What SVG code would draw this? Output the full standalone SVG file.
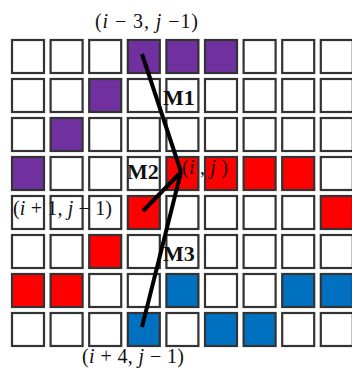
<svg xmlns="http://www.w3.org/2000/svg" width="352" height="369" viewBox="0 0 352 369">
<style>
.c{stroke:#333;stroke-width:2.2;fill:#ffffff}
.p{fill:#7030a0}
.r{fill:#ff0000}
.b{fill:#0070c0}
.m{font-family:"Liberation Serif",serif;font-weight:bold;font-size:22px;fill:#111}
.t{font-family:"Liberation Serif",serif;font-size:20px;fill:#111}
.i{font-style:italic}
.ln{stroke:#000;stroke-width:4;fill:none}
</style>
<rect width="352" height="369" fill="#fff"/>
<g id="grid">
<g id="r1c1"><rect class="c" x="12" y="40" width="32" height="33"/></g>
<g id="r1c2"><rect class="c" x="50.6" y="40" width="32" height="33"/></g>
<g id="r1c3"><rect class="c" x="89.2" y="40" width="32" height="33"/></g>
<g id="r1c4"><rect class="c p" x="127.8" y="40" width="32" height="33"/></g>
<g id="r1c5"><rect class="c p" x="166.4" y="40" width="32" height="33"/></g>
<g id="r1c6"><rect class="c p" x="205" y="40" width="32" height="33"/></g>
<g id="r1c7"><rect class="c" x="243.6" y="40" width="32" height="33"/></g>
<g id="r1c8"><rect class="c" x="282.2" y="40" width="32" height="33"/></g>
<g id="r1c9"><rect class="c" x="320.8" y="40" width="32" height="33"/></g>

<g id="r2c1"><rect class="c" x="12" y="79" width="32" height="33"/></g>
<g id="r2c2"><rect class="c" x="50.6" y="79" width="32" height="33"/></g>
<g id="r2c3"><rect class="c p" x="89.2" y="79" width="32" height="33"/></g>
<g id="r2c4"><rect class="c" x="127.8" y="79" width="32" height="33"/></g>
<g id="r2c5"><rect class="c" x="166.4" y="79" width="32" height="33"/></g>
<g id="r2c6"><rect class="c" x="205" y="79" width="32" height="33"/></g>
<g id="r2c7"><rect class="c" x="243.6" y="79" width="32" height="33"/></g>
<g id="r2c8"><rect class="c" x="282.2" y="79" width="32" height="33"/></g>
<g id="r2c9"><rect class="c" x="320.8" y="79" width="32" height="33"/></g>

<g id="r3c1"><rect class="c" x="12" y="118" width="32" height="33"/></g>
<g id="r3c2"><rect class="c p" x="50.6" y="118" width="32" height="33"/></g>
<g id="r3c3"><rect class="c" x="89.2" y="118" width="32" height="33"/></g>
<g id="r3c4"><rect class="c" x="127.8" y="118" width="32" height="33"/></g>
<g id="r3c5"><rect class="c" x="166.4" y="118" width="32" height="33"/></g>
<g id="r3c6"><rect class="c" x="205" y="118" width="32" height="33"/></g>
<g id="r3c7"><rect class="c" x="243.6" y="118" width="32" height="33"/></g>
<g id="r3c8"><rect class="c" x="282.2" y="118" width="32" height="33"/></g>
<g id="r3c9"><rect class="c" x="320.8" y="118" width="32" height="33"/></g>

<g id="r4c1"><rect class="c p" x="12" y="157" width="32" height="33"/></g>
<g id="r4c2"><rect class="c" x="50.6" y="157" width="32" height="33"/></g>
<g id="r4c3"><rect class="c" x="89.2" y="157" width="32" height="33"/></g>
<g id="r4c4"><rect class="c" x="127.8" y="157" width="32" height="33"/></g>
<g id="r4c5"><rect class="c r" x="166.4" y="157" width="32" height="33"/></g>
<g id="r4c6"><rect class="c r" x="205" y="157" width="32" height="33"/></g>
<g id="r4c7"><rect class="c r" x="243.6" y="157" width="32" height="33"/></g>
<g id="r4c8"><rect class="c r" x="282.2" y="157" width="32" height="33"/></g>
<g id="r4c9"><rect class="c" x="320.8" y="157" width="32" height="33"/></g>

<g id="r5c1"><rect class="c" x="12" y="196" width="32" height="33"/></g>
<g id="r5c2"><rect class="c" x="50.6" y="196" width="32" height="33"/></g>
<g id="r5c3"><rect class="c" x="89.2" y="196" width="32" height="33"/></g>
<g id="r5c4"><rect class="c r" x="127.8" y="196" width="32" height="33"/></g>
<g id="r5c5"><rect class="c" x="166.4" y="196" width="32" height="33"/></g>
<g id="r5c6"><rect class="c" x="205" y="196" width="32" height="33"/></g>
<g id="r5c7"><rect class="c" x="243.6" y="196" width="32" height="33"/></g>
<g id="r5c8"><rect class="c" x="282.2" y="196" width="32" height="33"/></g>
<g id="r5c9"><rect class="c r" x="320.8" y="196" width="32" height="33"/></g>

<g id="r6c1"><rect class="c" x="12" y="235" width="32" height="33"/></g>
<g id="r6c2"><rect class="c" x="50.6" y="235" width="32" height="33"/></g>
<g id="r6c3"><rect class="c r" x="89.2" y="235" width="32" height="33"/></g>
<g id="r6c4"><rect class="c" x="127.8" y="235" width="32" height="33"/></g>
<g id="r6c5"><rect class="c" x="166.4" y="235" width="32" height="33"/></g>
<g id="r6c6"><rect class="c" x="205" y="235" width="32" height="33"/></g>
<g id="r6c7"><rect class="c" x="243.6" y="235" width="32" height="33"/></g>
<g id="r6c8"><rect class="c" x="282.2" y="235" width="32" height="33"/></g>
<g id="r6c9"><rect class="c" x="320.8" y="235" width="32" height="33"/></g>

<g id="r7c1"><rect class="c r" x="12" y="274" width="32" height="33"/></g>
<g id="r7c2"><rect class="c r" x="50.6" y="274" width="32" height="33"/></g>
<g id="r7c3"><rect class="c" x="89.2" y="274" width="32" height="33"/></g>
<g id="r7c4"><rect class="c" x="127.8" y="274" width="32" height="33"/></g>
<g id="r7c5"><rect class="c b" x="166.4" y="274" width="32" height="33"/></g>
<g id="r7c6"><rect class="c" x="205" y="274" width="32" height="33"/></g>
<g id="r7c7"><rect class="c" x="243.6" y="274" width="32" height="33"/></g>
<g id="r7c8"><rect class="c b" x="282.2" y="274" width="32" height="33"/></g>
<g id="r7c9"><rect class="c b" x="320.8" y="274" width="32" height="33"/></g>

<g id="r8c1"><rect class="c" x="12" y="313" width="32" height="33"/></g>
<g id="r8c2"><rect class="c" x="50.6" y="313" width="32" height="33"/></g>
<g id="r8c3"><rect class="c" x="89.2" y="313" width="32" height="33"/></g>
<g id="r8c4"><rect class="c b" x="127.8" y="313" width="32" height="33"/></g>
<g id="r8c5"><rect class="c" x="166.4" y="313" width="32" height="33"/></g>
<g id="r8c6"><rect class="c b" x="205" y="313" width="32" height="33"/></g>
<g id="r8c7"><rect class="c b" x="243.6" y="313" width="32" height="33"/></g>
<g id="r8c8"><rect class="c" x="282.2" y="313" width="32" height="33"/></g>
<g id="r8c9"><rect class="c" x="320.8" y="313" width="32" height="33"/></g>
</g>
<g id="connectors">
<line class="ln" x1="142" y1="54" x2="181" y2="172"/>
<line class="ln" x1="143" y1="211" x2="181" y2="172"/>
<line class="ln" x1="142" y1="327" x2="181" y2="172"/>
</g>
<g id="labels">
<text class="m" x="163" y="105">M1</text>
<text class="m" x="127" y="179">M2</text>
<text class="m" x="163" y="261">M3</text>
<text class="t" x="95" y="28" textLength="103" lengthAdjust="spacing">(<tspan class="i">i</tspan> − 3, <tspan class="i">j</tspan> −1)</text>
<text class="t" x="182" y="174" textLength="46" lengthAdjust="spacing">(<tspan class="i">i</tspan> , <tspan class="i">j</tspan> )</text>
<text class="t" x="13" y="215" textLength="99" lengthAdjust="spacing">(<tspan class="i">i</tspan> + 1, <tspan class="i">j</tspan> − 1)</text>
<text class="t" x="82" y="363" textLength="102" lengthAdjust="spacing">(<tspan class="i">i</tspan> + 4, <tspan class="i">j</tspan> − 1)</text>
</g>
</svg>
